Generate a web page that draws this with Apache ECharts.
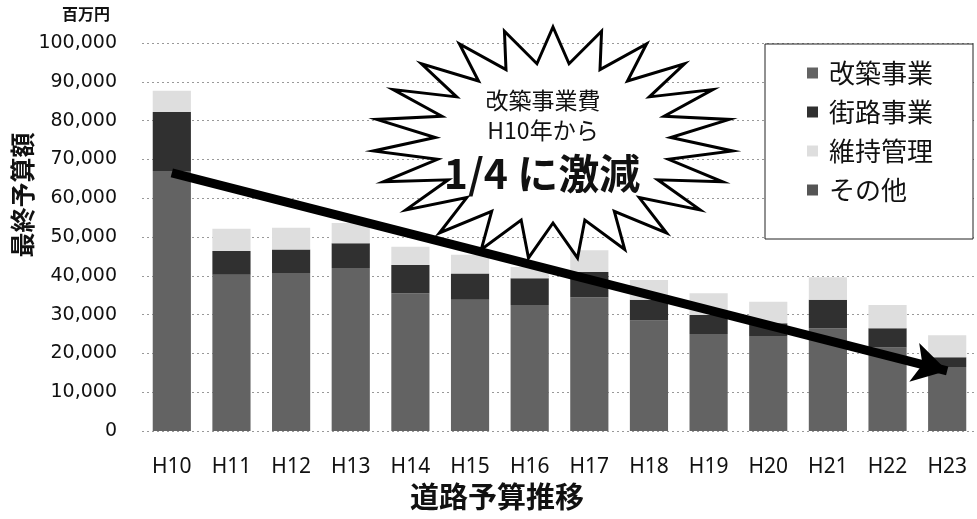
<!DOCTYPE html>
<html>
<head>
<meta charset="utf-8">
<script src="https://cdn.jsdelivr.net/npm/echarts@6/dist/echarts.min.js"></script>
<style>
  html, body { margin: 0; padding: 0; background: #fff; }
  #chart { width: 977px; height: 519px; }
</style>
</head>
<body>
<div id="chart"></div>
<script>
// 道路予算推移 (百万円)
const years = ['H10', 'H11', 'H12', 'H13', 'H14', 'H15', 'H16', 'H17', 'H18', 'H19', 'H20', 'H21', 'H22', 'H23'];
const kaichiku = [67000, 40300, 40700, 42000, 35500, 33800, 32500, 34500, 28500, 25000, 24500, 26500, 21500, 16500];
const gairo    = [15200, 6100, 6100, 6400, 7300, 6800, 6900, 6500, 5300, 4900, 3300, 7300, 5000, 2500];
const iji      = [5500, 5700, 5600, 5200, 4700, 4800, 2900, 5600, 5100, 5600, 5500, 5800, 6000, 5700];
const sonota   = [0, 0, 0, 0, 0, 0, 0, 0, 0, 0, 0, 0, 0, 0];
const seriesNames = ['改築事業', '街路事業', '維持管理', 'その他'];
const yTicks = [0, 10000, 20000, 30000, 40000, 50000, 60000, 70000, 80000, 90000, 100000];

const chart = echarts.init(document.getElementById('chart'));

const jp = '"Noto Sans CJK JP", "Noto Sans", sans-serif';

// starburst callout outline (decoration only)
function burst(cx, cy, rx, ry, irx, iry, n) {
    const pts = [];
    for (let i = 0; i < n * 2; i++) {
        const a = -Math.PI / 2 + i * Math.PI / n;
        const outer = i % 2 === 0;
        pts.push([cx + Math.cos(a) * (outer ? rx : irx), cy + Math.sin(a) * (outer ? ry : iry)]);
    }
    return pts;
}

const bar = (name, data, color) => ({
    name, type: 'bar', stack: 'total', data,
    barWidth: '64%',
    itemStyle: { color },
});

chart.setOption({
    animation: false,
    grid: { left: 142, right: 0, top: 43, bottom: 88 },
    legend: {
        orient: 'vertical',
        left: 765, top: 44,
        data: seriesNames,
        backgroundColor: '#fff',
        borderColor: '#222',
        borderWidth: 1,
        borderRadius: 0,
        padding: [16, 40, 36, 42],
        itemWidth: 11, itemHeight: 11,
        itemGap: 13,
        icon: 'rect',
        textStyle: { fontFamily: jp, fontSize: 26, color: '#111', padding: [0, 0, 0, 6] },
        z: 20,
    },
    xAxis: {
        type: 'category',
        data: years,
        axisLine: { show: false },
        axisTick: { show: false },
        axisLabel: {
            margin: 26,
            fontFamily: '"Liberation Sans Narrow", "Noto Sans", sans-serif',
            fontSize: 21, color: '#111',
        },
    },
    yAxis: {
        type: 'value',
        min: 0, max: 100000, interval: 10000,
        axisLine: { show: false },
        axisTick: { show: false },
        splitLine: { lineStyle: { color: '#999', type: [2, 3], width: 1 } },
        axisLabel: {
            margin: 25,
            fontFamily: '"DejaVu Sans", sans-serif',
            fontSize: 19, color: '#111',
            formatter: v => yTicks.includes(v) ? v.toLocaleString('en-US') : '',
        },
    },
    series: [
        bar(seriesNames[0], kaichiku, '#636363'),
        bar(seriesNames[1], gairo, '#303030'),
        bar(seriesNames[2], iji, '#dedede'),
        Object.assign(bar(seriesNames[3], sonota, '#555'), {
            markLine: {
                silent: true,
                symbol: ['none', 'arrow'],
                symbolSize: [30, 34],
                lineStyle: { color: '#000', width: 9, type: 'solid' },
                label: { show: false },
                z: 30,
                data: [[{ coord: ['H10', 66500] }, { coord: ['H23', 15500] }]],
            },
        }),
    ],
    graphic: [
        { type: 'text', left: 62, top: 6, style: { text: '百万円', font: 'bold 16px ' + jp, fill: '#111' } },
        { type: 'text', x: 22, y: 195, rotation: Math.PI / 2,
          style: { text: '最終予算額', font: 'bold 25px ' + jp, fill: '#111', align: 'center', verticalAlign: 'middle' } },
        { type: 'text', left: 410, top: 482, style: { text: '道路予算推移', font: 'bold 29px ' + jp, fill: '#111' } },
        {
            type: 'polygon', z: 10,
            shape: { points: burst(553, 143, 180, 116, 118, 80, 23) },
            style: { fill: '#fff', stroke: '#000', lineWidth: 3, lineJoin: 'miter' },
        },
        { type: 'text', z: 11, x: 543, y: 100,
          style: { text: '改築事業費', font: '23px ' + jp, fill: '#111', align: 'center', verticalAlign: 'middle' } },
        { type: 'text', z: 11, x: 543, y: 130,
          style: { text: 'H10年から', font: '23px ' + jp, fill: '#111', align: 'center', verticalAlign: 'middle' } },
        { type: 'text', z: 11, x: 542, y: 173,
          style: { text: '1/4 に激減', font: 'bold 41px ' + jp, fill: '#111', align: 'center', verticalAlign: 'middle' } },
    ],
});
</script>
</body>
</html>
